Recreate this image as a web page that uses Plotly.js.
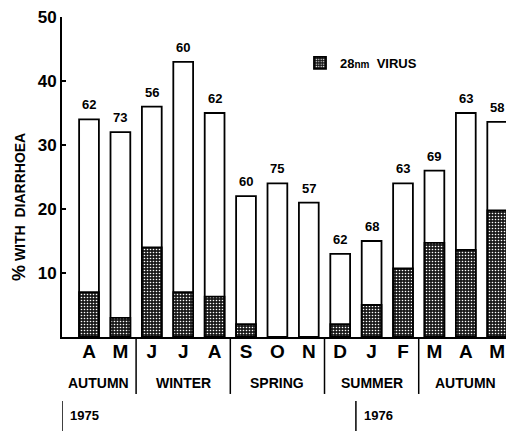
<!DOCTYPE html>
<html>
<head>
<meta charset="utf-8">
<script src="https://cdn.plot.ly/plotly-3.0.1.min.js"></script>
<style>html,body{margin:0;padding:0;background:#fff;}#chart{width:506px;height:431px;}</style>
</head>
<body>
<div id="chart"></div>
<script>
// ---- data ----
const months = ["A","M","J","J","A","S","O","N","D","J","F","M","A","M"];
const totalPct = [34, 32, 36, 43, 35, 22, 24, 21, 13, 15, 24, 26, 35, 33.6];
const virusPct = [7, 3, 14, 7, 6.3, 2, 0, 0, 2, 5, 10.7, 14.7, 13.6, 19.8];
const sampleN = ["62","73","56","60","62","60","75","57","62","68","63","69","63","58"];
const seasons = ["AUTUMN","WINTER","SPRING","SUMMER","AUTUMN"];
const seasonCenters = [0.3, 3.0, 6.0, 9.0, 12.0];
const seasonBreaks = [1.5, 4.5, 7.5, 10.5];
const years = ["1975","1976"];
const yearBreaks = [-0.86, 8.5];

const idx = months.map((m,i)=>i);
const FONT = "Liberation Sans, Arial, Helvetica, sans-serif";

const traces = [
  {
    type: "bar", x: idx, y: totalPct, width: 0.63,
    marker: {color: "#ffffff", line: {color: "#000", width: 1.8}},
    showlegend: false, hoverinfo: "skip"
  },
  {
    type: "bar", x: idx, y: virusPct, width: 0.63,
    name: "<b>28<span style='font-size:10px'>nm</span>  VIRUS</b>",
    marker: {
      color: "#1a1a1a",
      line: {color: "#000", width: 1.8},
      pattern: {shape: ".", bgcolor: "#1a1a1a", fgcolor: "#ffffff", size: 3, solidity: 0.22, fillmode: "replace"}
    },
    hoverinfo: "skip"
  }
];

const annotations = [];
idx.forEach(i => {
  annotations.push({x: i, y: totalPct[i], xref: "x", yref: "y", text: "<b>" + sampleN[i] + "</b>",
    showarrow: false, yanchor: "bottom", yshift: 5, font: {family: FONT, size: 13, color: "#000"}});
});
seasons.forEach((s, k) => {
  annotations.push({x: seasonCenters[k], y: -0.144, xref: "x", yref: "paper", text: "<b>" + s + "</b>",
    showarrow: false, yanchor: "middle", font: {family: FONT, size: 14, color: "#000"}});
});
years.forEach((s, k) => {
  annotations.push({x: yearBreaks[k], y: -0.245, xref: "x", yref: "paper", text: "<b>" + s + "</b>",
    showarrow: false, xanchor: "left", yanchor: "middle", xshift: 6, font: {family: FONT, size: 13, color: "#000"}});
});
annotations.push({x: (19 - 62) / 444, y: (337 - 207) / 320, xref: "paper", yref: "paper",
  xanchor: "center", yanchor: "middle",
  text: "<b><span style='font-size:18px'>%</span> WITH  DIARRHOEA</b>", textangle: -90,
  showarrow: false, font: {family: FONT, size: 14, color: "#000"}});

const shapes = [];
seasonBreaks.forEach(b => {
  shapes.push({type: "line", xref: "x", yref: "paper", x0: b, x1: b, y0: 0, y1: -0.178, line: {color: "#000", width: 1.5}});
});
yearBreaks.forEach(b => {
  shapes.push({type: "line", xref: "x", yref: "paper", x0: b, x1: b, y0: -0.2, y1: -0.3, line: {color: "#000", width: 1.5}});
});

const layout = {
  width: 506, height: 431,
  margin: {l: 62, r: 0, t: 17, b: 94},
  paper_bgcolor: "#fff", plot_bgcolor: "#fff",
  barmode: "overlay",
  font: {family: FONT, color: "#000"},
  xaxis: {
    range: [-0.86, 13.28], tickvals: idx, ticktext: months.map(m => "<b>" + m + "</b>"),
    tickfont: {family: FONT, size: 19, color: "#000"}, ticks: "", ticklabelstandoff: -4,
    showgrid: false, zeroline: false,
    showline: true, linecolor: "#000", linewidth: 2, fixedrange: true
  },
  yaxis: {
    range: [0, 50], tickvals: [10, 20, 30, 40, 50], ticktext: ["<b>10</b>","<b>20</b>","<b>30</b>","<b>40</b>","<b>50</b>"],
    tickfont: {family: FONT, size: 17, color: "#000"}, ticks: "inside", ticklen: 4, tickwidth: 2, tickcolor: "#000",
    showgrid: false, zeroline: false, showline: true, linecolor: "#000", linewidth: 2, fixedrange: true
  },
  legend: {x: (300 - 62) / 444, y: (337 - 48) / 320, xanchor: "left", yanchor: "top",
    bgcolor: "rgba(0,0,0,0)", font: {family: FONT, size: 13, color: "#000"}},
  annotations: annotations,
  shapes: shapes
};

Plotly.newPlot("chart", traces, layout, {displayModeBar: false, staticPlot: true});
</script>
</body>
</html>
